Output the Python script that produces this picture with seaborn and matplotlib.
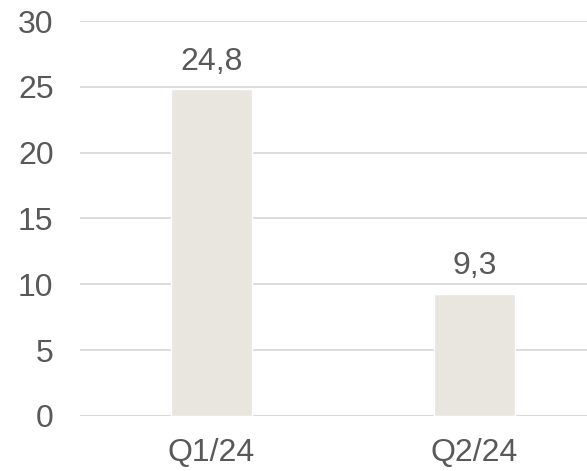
import matplotlib
matplotlib.use("Agg")
import matplotlib.pyplot as plt
import seaborn as sns
import pandas as pd

# Datos
quarters = ["Q1/24", "Q2/24"]
values = [24.8, 9.3]
y_ticks = [0, 5, 10, 15, 20, 25, 30]

sns.set_style("white")
plt.rcParams['font.family'] = ['Liberation Sans', 'DejaVu Sans']

text_color = "#595959"
bar_color = "#E9E5DF"
grid_color = "#D9D9D9"

df = pd.DataFrame({"quarter": quarters, "value": values})

fig = plt.figure(figsize=(5.87, 4.71), dpi=100)
ax = fig.add_axes([0.1363, 0.1168, 0.8637, 0.8386])

sns.barplot(data=df, x="quarter", y="value", color=bar_color, width=0.31,
            saturation=1, ax=ax, zorder=2)

# Etiquetas de valores
for i, v in enumerate(values):
    ax.annotate(f"{v:.1f}".replace(".", ","), xy=(i, v), xytext=(0, 9),
                textcoords="offset points", ha="center", va="bottom",
                fontsize=23, color=text_color)

ax.set_ylim(0, 30)
ax.set_xlim(-0.5, 1.428)
ax.set_yticks(y_ticks)
ax.yaxis.grid(True, color=grid_color, linewidth=1.3, zorder=0)
ax.set_axisbelow(True)
for s in ax.spines.values():
    s.set_visible(False)
ax.axhline(0, color=grid_color, linewidth=1.5, zorder=1)

ax.tick_params(axis="y", length=0, pad=19, labelsize=23, labelcolor=text_color)
ax.tick_params(axis="x", length=0, pad=16, labelsize=23, labelcolor=text_color)
ax.set_xlabel("")
ax.set_ylabel("")

plt.savefig("out.png", dpi=100)
